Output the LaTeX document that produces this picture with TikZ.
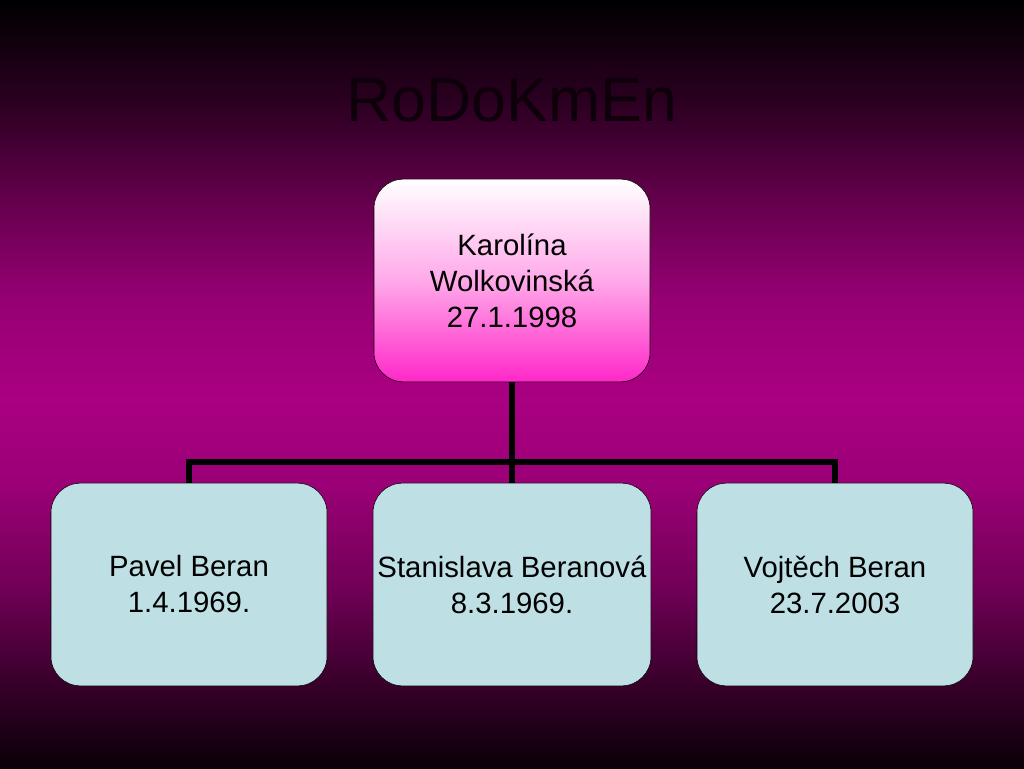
\documentclass[tikz,border=0pt]{standalone}
\usepackage{fontspec}
\setmainfont{Liberation Sans}
\usetikzlibrary{positioning}
\definecolor{bgA}{RGB}{10,0,8}
\definecolor{bgB}{RGB}{55,0,42}
\definecolor{bgC}{RGB}{115,0,88}
\definecolor{bgD}{RGB}{155,0,118}
\definecolor{bgE}{RGB}{170,0,130}
\definecolor{bgF}{RGB}{150,0,115}
\definecolor{bgG}{RGB}{100,0,76}
\definecolor{bgH}{RGB}{42,0,32}
\definecolor{parentpink}{RGB}{255,40,200}
\definecolor{childblue}{RGB}{190,224,228}
\pgfdeclareverticalshading{slideshade}{100bp}{color(0bp)=(bgA); color(25bp)=(bgA);
    color(30.5bp)=(bgB); color(37bp)=(bgC); color(43.5bp)=(bgD); color(49bp)=(bgE);
    color(55.5bp)=(bgF); color(62bp)=(bgG); color(68.5bp)=(bgH); color(75bp)=(black);
    color(100bp)=(black)}
\tikzstyle{person}=[draw=black, thin, rounded corners=22pt, align=center,
    minimum width=207pt, minimum height=152pt,
    font=\fontsize{22}{27}\selectfont]
\tikzstyle{parent}=[person, top color=white, bottom color=parentpink, middle color=white!60!parentpink]
\tikzstyle{child}=[person, fill=childblue]
\tikzstyle{link}=[line width=4.5pt, black, line join=miter]

\begin{document}
\begin{tikzpicture}[x=0.75pt, y=-0.75pt]
% Background
    \shade[shading=slideshade] (0,0) rectangle (1024,768);
    \useasboundingbox (0,0) rectangle (1024,768);
% Title
    \node[font=\fontsize{47}{56}\selectfont, text=black!92!bgE] (title) at (512,100) {RoDoKmEn};
% People
    \node[parent] (karolina) at (512,280.5) {Karolína\\Wolkovinská\\27.1.1998};
    \node[child] (pavel) at (189,584.5) {Pavel Beran\\1.4.1969.};
    \node[child] (stanislava) at (512,584.5) {Stanislava Beranová\\8.3.1969.};
    \node[child] (vojtech) at (835,584.5) {Vojtěch Beran\\23.7.2003};
% Links
    \coordinate (fork) at (512,462);
    \draw[link] (karolina) -- (fork);
    \draw[link] (pavel.north) |- (fork) -| (vojtech.north);
    \draw[link] (fork) -- (stanislava.north);
\end{tikzpicture}
\end{document}
